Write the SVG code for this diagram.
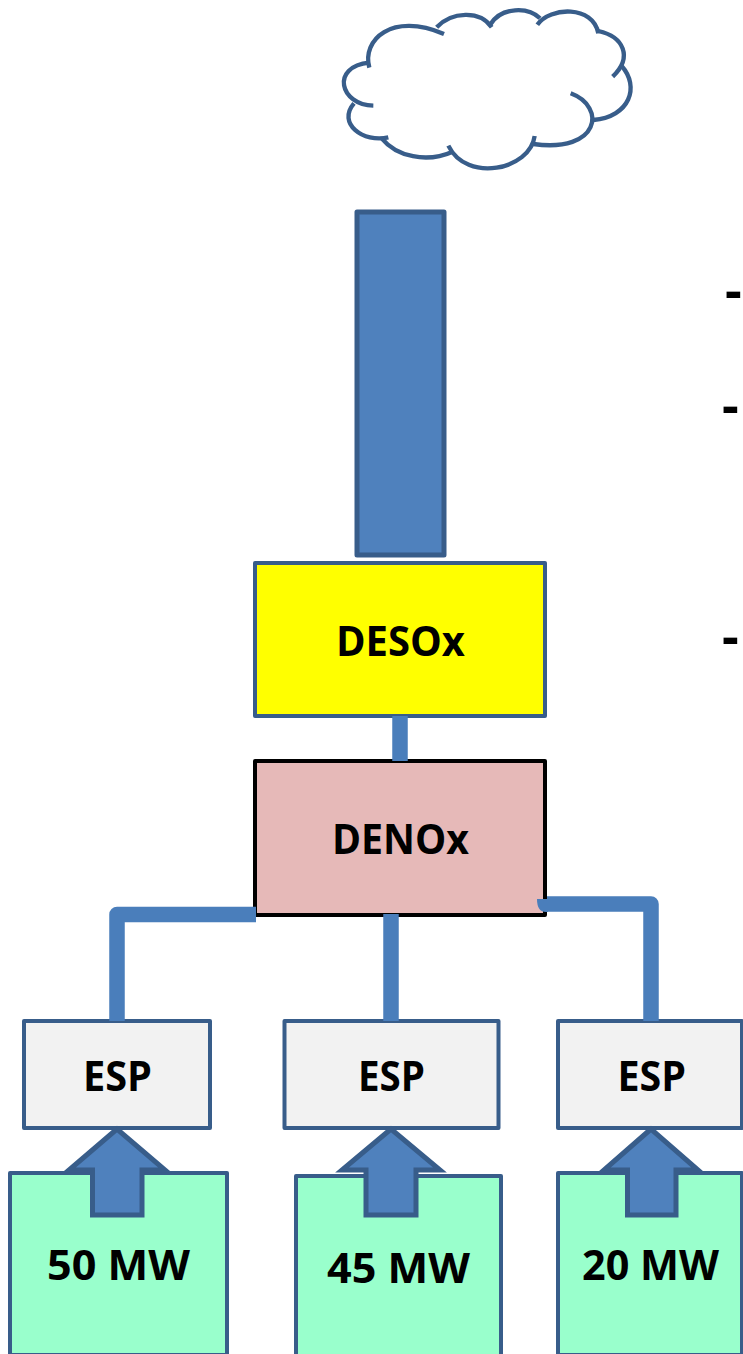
<svg xmlns="http://www.w3.org/2000/svg" width="743" height="1354" viewBox="0 0 743 1354">
<style>
.box{stroke:#385d8a;stroke-width:4;stroke-linejoin:round}
.esp{fill:#f2f2f2}
.mw{fill:#99ffcc}
.arrow{fill:#4f81bd;stroke:#385d8a;stroke-width:5;stroke-linejoin:miter}
.pipe{fill:none;stroke:#4a7ebb;stroke-width:15.5;stroke-linejoin:round}
.t{font-family:"Open Sans","Noto Sans","Liberation Sans",sans-serif;font-weight:700;font-size:41px;fill:#000;text-anchor:start}
.dash{font-family:"Open Sans","Liberation Sans",sans-serif;font-weight:700;font-size:52px;fill:#000}
.cloud path{fill:none;stroke:#385d8a;stroke-width:13}
</style>
<rect width="743" height="1354" fill="#fff"/>
<g id="cloud" class="cloud" transform="translate(320 0) scale(.33333)">
<path d="M148 203C125 120 215 35 372 102"/>
<path d="M350 82C395 35 480 30 515 82"/>
<path d="M512 72C545 20 625 20 660 55"/>
<path d="M652 74C690 20 820 15 835 100"/>
<path d="M835 93C910 110 940 170 878 230"/>
<path d="M905 198C960 260 930 350 820 360"/>
<path d="M752 280C860 320 840 460 640 432"/>
<path d="M644 408C630 510 440 550 385 437"/>
<path d="M398 455C320 490 230 470 185 415"/>
<path d="M205 412C130 430 50 370 102 310"/>
<path d="M160 317C60 315 30 200 148 188"/>
</g>
<g id="stack"><rect class="box" x="357" y="212" width="87" height="343" fill="#4f81bd" style="stroke-width:5"/></g>
<g id="desox"><rect class="box" x="255" y="563" width="290" height="153" fill="#ffff00"/>
<text class="t" x="336" y="656" textLength="129" lengthAdjust="spacingAndGlyphs">DESOx</text></g>
<g id="denox"><rect x="255" y="761" width="290" height="154" fill="#e6b9b8" stroke="#000" stroke-width="4" stroke-linejoin="round"/>
<text class="t" x="332" y="854" textLength="137" lengthAdjust="spacingAndGlyphs">DENOx</text></g>
<g id="esp1"><rect class="box esp" x="24" y="1021" width="186" height="107"/>
<text class="t" x="83" y="1091" textLength="69" lengthAdjust="spacingAndGlyphs">ESP</text></g>
<g id="esp2"><rect class="box esp" x="284.500" y="1021" width="214" height="107"/>
<text class="t" x="358" y="1091" textLength="67" lengthAdjust="spacingAndGlyphs">ESP</text></g>
<g id="esp3"><rect class="box esp" x="558" y="1021" width="184" height="107"/>
<text class="t" x="617.500" y="1091" textLength="68.500" lengthAdjust="spacingAndGlyphs">ESP</text></g>
<g id="source1"><rect class="box mw" x="10" y="1173" width="217" height="182"/>
<text class="t" x="47" y="1280" textLength="143" lengthAdjust="spacingAndGlyphs">50 MW</text></g>
<g id="source2"><rect class="box mw" x="296" y="1176" width="205" height="180"/>
<text class="t" x="327" y="1283" textLength="143" lengthAdjust="spacingAndGlyphs">45 MW</text></g>
<g id="source3"><rect class="box mw" x="558" y="1173" width="184" height="182"/>
<text class="t" x="582" y="1280" textLength="137" lengthAdjust="spacingAndGlyphs">20 MW</text></g>
<g id="connectors">
<path class="pipe" d="M400 716V761"/>
<path class="pipe" d="M256 914.500H117V1021"/>
<path class="pipe" d="M391 914V1021"/>
<path class="pipe" d="M547 904H651V1021"/>
<path d="M537 899H548V912H546Q537 912 537 899Z" fill="#4a7ebb"/>
<path class="arrow" d="M117 1129L69 1170H92.500V1215H142V1170H165Z"/>
<path class="arrow" d="M391 1129L342 1170H366V1215H416V1170H440Z"/>
<path class="arrow" d="M651 1129L604 1170H627.500V1215H676V1170H698Z"/>
</g>
<g id="dashes">
<text class="dash" x="725" y="309">-</text>
<text class="dash" x="722" y="424">-</text>
<text class="dash" x="722" y="655">-</text>
</g>
</svg>
